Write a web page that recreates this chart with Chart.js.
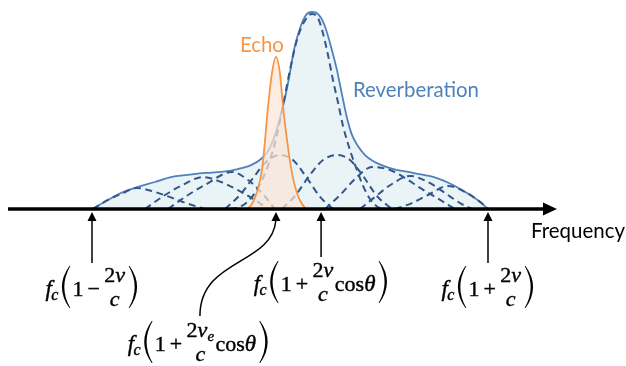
<!DOCTYPE html>
<html>
<head>
<meta charset="utf-8">
<script src="https://cdn.jsdelivr.net/npm/chart.js@4/dist/chart.umd.min.js"></script>
<style>
  html, body { margin: 0; padding: 0; background: #ffffff; }
  canvas { display: block; }
</style>
</head>
<body>
<canvas id="spectrum" width="626" height="366"></canvas>
<script>
// Normalised Doppler frequency: -1 = fc(1 - 2v/c), +1 = fc(1 + 2v/c).
// Level is relative to the reverberation maximum.

// Envelope of the total reverberation spectrum [frequency, level]
const reverberation = [
  [-1.000, 0.000], [-0.919, 0.046], [-0.854, 0.081], [-0.768, 0.112], [-0.682, 0.137],
  [-0.601, 0.162], [-0.515, 0.173], [-0.429, 0.183], [-0.348, 0.188], [-0.263, 0.203],
  [-0.197, 0.223], [-0.146, 0.254], [-0.111, 0.294], [-0.081, 0.360], [-0.056, 0.442],
  [-0.030, 0.543], [-0.005, 0.665], [0.020, 0.807], [0.051, 0.919], [0.081, 0.985],
  [0.111, 1.000], [0.141, 0.990], [0.172, 0.939], [0.202, 0.843], [0.237, 0.706],
  [0.263, 0.579], [0.288, 0.462], [0.313, 0.376], [0.343, 0.320], [0.379, 0.274],
  [0.419, 0.244], [0.505, 0.208], [0.621, 0.183], [0.742, 0.157], [0.823, 0.122],
  [0.894, 0.081], [0.960, 0.036], [1.000, 0.000]
];

// Target echo line
const echo = [
  [-0.217, 0.000], [-0.192, 0.025], [-0.167, 0.086], [-0.141, 0.203], [-0.126, 0.350],
  [-0.111, 0.518], [-0.091, 0.690], [-0.071, 0.772], [-0.051, 0.690], [-0.035, 0.518],
  [-0.015, 0.350], [0.010, 0.183], [0.035, 0.081], [0.061, 0.025], [0.081, 0.000]
];

// Scatterer contributions that sum to the reverberation envelope
const patchMain = [
  [-0.303, 0.000], [-0.253, 0.010], [-0.192, 0.061], [-0.141, 0.147], [-0.101, 0.249],
  [-0.066, 0.376], [-0.035, 0.528], [0.000, 0.706], [0.035, 0.858], [0.071, 0.949],
  [0.111, 0.990], [0.141, 0.970], [0.162, 0.909], [0.192, 0.782], [0.217, 0.655],
  [0.242, 0.543], [0.268, 0.421], [0.303, 0.299], [0.338, 0.198], [0.369, 0.117],
  [0.404, 0.051], [0.444, 0.010], [0.480, 0.000]
];
const patchA = [[-0.995, 0.000], [-0.919, 0.046], [-0.854, 0.076], [-0.773, 0.107], [-0.697, 0.091], [-0.621, 0.066], [-0.525, 0.030], [-0.429, 0.000]];
const patchB = [[-0.732, 0.000], [-0.631, 0.071], [-0.551, 0.117], [-0.439, 0.162], [-0.348, 0.137], [-0.263, 0.096], [-0.177, 0.046], [-0.111, 0.000]];
const patchC = [[-0.616, 0.000], [-0.515, 0.071], [-0.429, 0.122], [-0.293, 0.188], [-0.212, 0.147], [-0.146, 0.086], [-0.076, 0.000]];
const patchD = [[-0.328, 0.000], [-0.253, 0.071], [-0.187, 0.157], [-0.121, 0.239], [-0.051, 0.274], [0.015, 0.249], [0.086, 0.157], [0.152, 0.061], [0.217, 0.000]];
const patchE = [[-0.040, 0.000], [0.025, 0.066], [0.101, 0.173], [0.167, 0.249], [0.237, 0.274], [0.303, 0.249], [0.369, 0.168], [0.439, 0.066], [0.515, 0.000]];
const patchF = [[0.177, 0.000], [0.253, 0.071], [0.338, 0.162], [0.414, 0.213], [0.505, 0.198], [0.581, 0.157], [0.657, 0.107], [0.742, 0.056], [0.833, 0.000]];
const patchG = [[0.354, 0.000], [0.429, 0.061], [0.515, 0.127], [0.606, 0.168], [0.697, 0.137], [0.783, 0.081], [0.859, 0.030], [0.919, 0.000]];
const patchH = [[0.530, 0.000], [0.616, 0.030], [0.697, 0.071], [0.798, 0.117], [0.894, 0.081], [0.960, 0.036], [1.000, 0.000]];
const patches = [patchMain, patchA, patchB, patchC, patchD, patchE, patchF, patchG, patchH];

// Marked frequencies on the axis and their formulas
const edgeLow = -1.0;
const echoShift = -0.071;
const clutterShift = 0.157;
const edgeHigh = 1.0;
const axisMarks = [
  { at: edgeLow, sign: '\u2212', numSub: '', cos: false, row: 'top' },
  { at: clutterShift, sign: '+', numSub: '', cos: true, row: 'mid' },
  { at: edgeHigh, sign: '+', numSub: '', cos: false, row: 'top' },
  { at: echoShift, sign: '+', numSub: 'e', cos: true, row: 'bottom' }
];
const axisTitle = 'Frequency';
const echoTitle = 'Echo';
const reverbTitle = 'Reverberation';

const toPoints = arr => arr.map(([f, a]) => ({ x: f, y: a }));

const COLORS = {
  reverbLine: '#4f81bd',
  reverbFill: '#eaf4f7',
  patch: '#34578a',
  echoLine: '#f79646',
  echoFill: 'rgba(251, 229, 214, 0.72)',
  ink: '#000000'
};

const SERIF = '"Liberation Serif", "Times New Roman", serif';
const SANS = 'Lato, "Open Sans", sans-serif';

function fitFont(ctx, text, family, width) {
  ctx.font = `100px ${family}`;
  const size = 100 * width / ctx.measureText(text).width;
  return `${size.toFixed(2)}px ${family}`;
}

function paren(ctx, x, a, side) {
  const h = 21, w = 7.5, t = 2.4;
  ctx.beginPath();
  if (side === 'left') {
    const xe = x + 1.5 + w, xm = x + 1.5;
    ctx.moveTo(xe, a - h);
    ctx.quadraticCurveTo(2 * xm - xe, a, xe, a + h);
    ctx.lineTo(xe + 0.9, a + h);
    ctx.quadraticCurveTo(2 * (xm + t) - (xe + 0.9), a, xe + 0.9, a - h);
  } else {
    const xm = x + 9.5, xe = xm - w;
    ctx.moveTo(xe, a - h);
    ctx.quadraticCurveTo(2 * xm - xe, a, xe, a + h);
    ctx.lineTo(xe - 0.9, a + h);
    ctx.quadraticCurveTo(2 * (xm - t) - (xe - 0.9), a, xe - 0.9, a - h);
  }
  ctx.closePath();
  ctx.fill();
}

// fc(1 ± 2v/c [cosθ]) centred on cx, with a as the fraction axis
function formula(ctx, cx, a, spec) {
  const F = {
    up: `22px ${SERIF}`, it: `italic 23px ${SERIF}`, sub: `italic 16px ${SERIF}`,
    fUp: `22px ${SERIF}`, fIt: `italic 22px ${SERIF}`, fSub: `italic 15px ${SERIF}`
  };
  const mainBase = a + 9, numBase = a - 5, denBase = a + 19;
  const width = (font, s) => { ctx.font = font; return ctx.measureText(s).width; };
  const numW = width(F.fUp, '2') + width(F.fIt, 'v') + (spec.numSub ? width(F.fSub, spec.numSub) : 0);
  const denW = width(F.fIt, 'c');
  const fracW = Math.max(numW, denW) + 1;

  const run = (x0, draw) => {
    let x = x0;
    const put = (font, s, base) => {
      ctx.font = font;
      if (draw) { ctx.fillText(s, x, base); ctx.strokeText(s, x, base); }
      x += ctx.measureText(s).width;
    };
    put(F.it, 'f', mainBase);
    x -= 0.5;
    put(F.sub, 'c', mainBase + 4);
    x += 2;
    if (draw) paren(ctx, x, a, 'left');
    x += 12;
    put(F.up, '1', mainBase);
    x += 4;
    put(F.up, spec.sign, mainBase);
    x += 4;
    if (draw) {
      let nx = x + (fracW - numW) / 2;
      const txt = (font, s, px, py) => { ctx.font = font; ctx.fillText(s, px, py); ctx.strokeText(s, px, py); return ctx.measureText(s).width; };
      nx += txt(F.fUp, '2', nx, numBase);
      nx += txt(F.fIt, 'v', nx, numBase);
      if (spec.numSub) txt(F.fSub, spec.numSub, nx, numBase + 4);
      txt(F.fIt, 'c', x + (fracW - denW) / 2, denBase);
    }
    x += fracW;
    if (spec.cos) {
      x += 1;
      put(F.up, 'cos', mainBase);
      put(F.it, '\u03b8', mainBase);
    }
    x += 2;
    if (draw) paren(ctx, x, a, 'right');
    x += 11;
    return x - x0;
  };
  ctx.save();
  ctx.lineWidth = 0.4;
  const total = run(0, false);
  run(cx - total / 2, true);
  ctx.restore();
}

function upArrowHead(ctx, x, tipY) {
  ctx.beginPath();
  ctx.moveTo(x, tipY);
  ctx.lineTo(x - 4.5, tipY + 9);
  ctx.lineTo(x + 4.5, tipY + 9);
  ctx.closePath();
  ctx.fill();
}

// Frequency axis, marker arrows, formulas and titles
const annotations = {
  id: 'annotations',
  afterDatasetsDraw(chart) {
    const { ctx, scales: { x, y } } = chart;
    const y0 = y.getPixelForValue(0);
    const left = chart.chartArea.left + 8;
    const tip = x.getPixelForValue(edgeHigh) + 69;
    ctx.save();
    ctx.fillStyle = COLORS.ink;
    ctx.strokeStyle = COLORS.ink;

    // frequency axis with arrow
    ctx.lineWidth = 3.6;
    ctx.beginPath();
    ctx.moveTo(left, y0);
    ctx.lineTo(tip - 10, y0);
    ctx.stroke();
    ctx.beginPath();
    ctx.moveTo(tip, y0);
    ctx.lineTo(tip - 14, y0 - 6.5);
    ctx.lineTo(tip - 14, y0 + 6.5);
    ctx.closePath();
    ctx.fill();

    ctx.font = fitFont(ctx, axisTitle, SANS, 94);
    ctx.textBaseline = 'alphabetic';
    ctx.fillText(axisTitle, tip - 26, y0 + 29);

    // marker arrows and formulas
    ctx.lineWidth = 1.5;
    axisMarks.forEach(m => {
      const px = x.getPixelForValue(m.at);
      if (m.row === 'bottom') {
        const lx = px - 77.5;
        ctx.beginPath();
        ctx.moveTo(lx + 1.5, y0 + 107);
        ctx.bezierCurveTo(lx + 1.5, y0 + 49, px - 4, y0 + 57, px, y0 + 11);
        ctx.stroke();
        upArrowHead(ctx, px, y0 + 3);
        formula(ctx, lx, y0 + 133, m);
      } else {
        const len = m.row === 'mid' ? 48 : 54;
        ctx.beginPath();
        ctx.moveTo(px, y0 + 10);
        ctx.lineTo(px, y0 + len);
        ctx.stroke();
        upArrowHead(ctx, px, y0 + 3);
        formula(ctx, px, y0 + (m.row === 'mid' ? 73 : 78), m);
      }
    });

    // series titles
    const echoPeak = Math.max(...echo.map(p => p[1]));
    ctx.fillStyle = COLORS.echoLine;
    ctx.font = fitFont(ctx, echoTitle, SANS, 44);
    ctx.textAlign = 'center';
    ctx.fillText(echoTitle, x.getPixelForValue(echoShift) - 14, y.getPixelForValue(echoPeak) - 5);
    ctx.fillStyle = COLORS.reverbLine;
    ctx.font = fitFont(ctx, reverbTitle, SANS, 126);
    ctx.textAlign = 'left';
    ctx.fillText(reverbTitle, x.getPixelForValue(0.318), y.getPixelForValue(0.569));
    ctx.restore();
  }
};

const datasets = [
  {
    label: echoTitle,
    data: toPoints(echo),
    borderColor: COLORS.echoLine,
    backgroundColor: COLORS.echoFill,
    borderWidth: 1.8,
    fill: 'origin',
    order: 0
  },
  ...patches.map((p, i) => ({
    label: 'patch ' + i,
    data: toPoints(p),
    borderColor: COLORS.patch,
    borderWidth: 2,
    borderDash: [7, 4.5],
    fill: false,
    order: 1
  })),
  {
    label: reverbTitle,
    data: toPoints(reverberation),
    borderColor: COLORS.reverbLine,
    backgroundColor: COLORS.reverbFill,
    borderWidth: 1.8,
    fill: 'origin',
    order: 2
  }
];

new Chart(document.getElementById('spectrum'), {
  type: 'line',
  data: { datasets },
  options: {
    responsive: false,
    devicePixelRatio: 1,
    animation: false,
    layout: { padding: { left: 0, right: 0, top: 0, bottom: 157 } },
    datasets: {
      line: { cubicInterpolationMode: 'monotone', pointRadius: 0, clip: false }
    },
    scales: {
      x: { type: 'linear', min: -1.4646, max: 1.697, display: false },
      y: { min: 0, max: 1.0609, display: false }
    },
    plugins: {
      legend: { display: false },
      tooltip: { enabled: false }
    }
  },
  plugins: [annotations]
});
</script>
</body>
</html>
